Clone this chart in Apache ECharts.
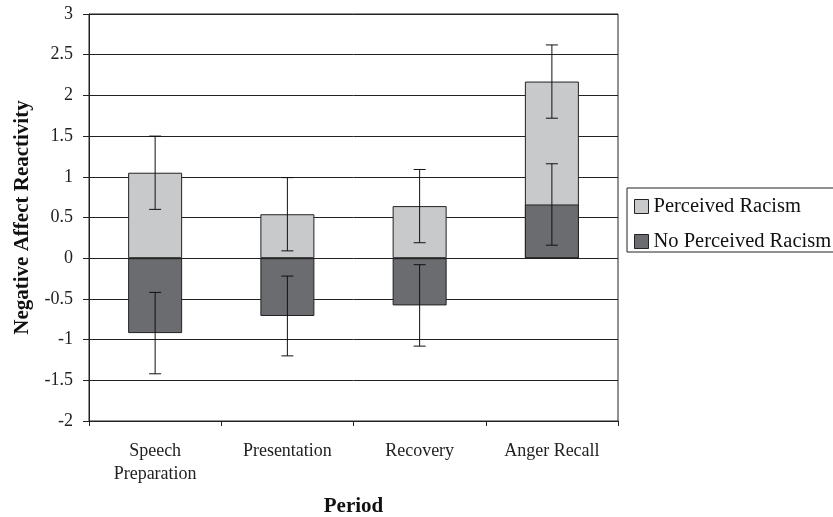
<!DOCTYPE html>
<html>
<head>
<meta charset="utf-8">
<style>html,body{margin:0;padding:0;background:#fff}#c{width:833px;height:517px}</style>
<script src="https://cdn.jsdelivr.net/npm/echarts@6/dist/echarts.min.js"></script>
</head>
<body>
<div id="c"></div>
<script>
var categories = ['Speech\nPreparation', 'Presentation', 'Recovery', 'Anger Recall'];
var seriesNames = ['Perceived Racism', 'No Perceived Racism'];
var perceived = [1.05, 0.54, 0.64, 2.17];
var perceivedErr = [0.45, 0.45, 0.45, 0.45];
var noPerceived = [-0.92, -0.71, -0.58, 0.66];
var noPerceivedErr = [0.50, 0.49, 0.50, 0.50];
var yTicks = [-2, -1.5, -1, -0.5, 0, 0.5, 1, 1.5, 2, 2.5, 3];

function errData(vals, errs) {
  return vals.map(function (v, i) { return [i, v - errs[i], v + errs[i]]; });
}
function renderErr(params, api) {
  var x = api.value(0);
  var lo = api.coord([x, api.value(1)]);
  var hi = api.coord([x, api.value(2)]);
  var hw = 6;
  var st = { stroke: '#111', lineWidth: 1 };
  return {
    type: 'group',
    children: [
      { type: 'line', shape: { x1: hi[0], y1: hi[1], x2: lo[0], y2: lo[1] }, style: st },
      { type: 'line', shape: { x1: hi[0] - hw, y1: hi[1], x2: hi[0] + hw, y2: hi[1] }, style: st },
      { type: 'line', shape: { x1: lo[0] - hw, y1: lo[1], x2: lo[0] + hw, y2: lo[1] }, style: st }
    ]
  };
}

var chart = echarts.init(document.getElementById('c'), null, { renderer: 'canvas' });
var font = 'Liberation Serif';
chart.setOption({
  animation: false,
  backgroundColor: '#fff',
  textStyle: { fontFamily: font },
  grid: { left: 89, right: 215, top: 14, bottom: 96, show: true, borderColor: '#222', borderWidth: 1,
    containLabel: false, outerBoundsMode: 'none' },
  legend: {
    data: seriesNames,
    orient: 'vertical',
    left: 627, top: 188,
    padding: [8, 40, 0, 7],
    itemGap: 14,
    itemWidth: 14, itemHeight: 14,
    icon: 'rect',
    borderColor: '#222', borderWidth: 1,
    itemStyle: { borderColor: '#222', borderWidth: 1 },
    textStyle: { fontFamily: font, fontSize: 20.5, color: '#111' }
  },
  xAxis: {
    type: 'category',
    data: categories,
    axisLine: { onZero: false, lineStyle: { color: '#222', width: 1 } },
    axisTick: { show: true, length: 5, lineStyle: { color: '#222' } },
    axisLabel: { fontFamily: font, fontSize: 18, color: '#222', margin: 19, lineHeight: 23 },
    name: 'Period',
    nameLocation: 'middle',
    nameGap: 75,
    nameTextStyle: { fontFamily: font, fontSize: 21, fontWeight: 'bold', color: '#111' }
  },
  yAxis: {
    type: 'value',
    min: -2, max: 3, interval: 0.5,
    axisLine: { show: true, lineStyle: { color: '#222', width: 1 } },
    axisTick: { show: true, length: 6, lineStyle: { color: '#222' } },
    axisLabel: { fontFamily: font, fontSize: 18, color: '#222', margin: 16,
      formatter: function (v) { return yTicks.indexOf(v) >= 0 ? String(v) : ''; } },
    splitLine: { show: true, lineStyle: { color: '#222', width: 1 } },
    name: 'Negative Affect Reactivity',
    nameLocation: 'middle',
    nameGap: 56,
    nameTextStyle: { fontFamily: font, fontSize: 21, fontWeight: 'bold', color: '#111' }
  },
  series: [
    {
      name: seriesNames[0], type: 'bar', data: perceived, barWidth: 54, barGap: '-100%', z: 2,
      itemStyle: { color: '#c8c9cb', borderColor: '#222', borderWidth: 1 }
    },
    {
      name: seriesNames[1], type: 'bar', data: noPerceived, barWidth: 54, barGap: '-100%', z: 3,
      itemStyle: { color: '#6b6c70', borderColor: '#222', borderWidth: 1 }
    },
    {
      name: 'errP', type: 'custom', data: errData(perceived, perceivedErr), renderItem: renderErr,
      encode: { x: 0, y: [1, 2] }, z: 10, silent: true
    },
    {
      name: 'errN', type: 'custom', data: errData(noPerceived, noPerceivedErr), renderItem: renderErr,
      encode: { x: 0, y: [1, 2] }, z: 10, silent: true
    }
  ]
});
</script>
</body>
</html>
